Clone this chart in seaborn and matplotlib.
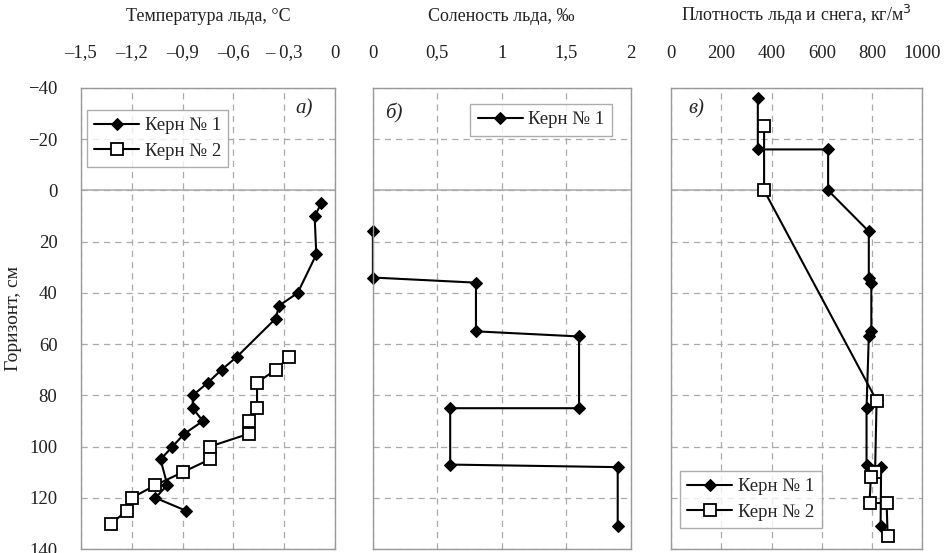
import matplotlib
matplotlib.use('Agg')
import matplotlib.pyplot as plt
import seaborn as sns
import pandas as pd

# панель а) температура льда
temp_depth_1 = [5, 10, 25, 40, 45, 50, 65, 70, 75, 80, 85, 90, 95, 100, 105, 115, 120, 125]
temp_1 = [-0.08, -0.12, -0.11, -0.22, -0.33, -0.35, -0.58, -0.67, -0.75, -0.84, -0.84,
          -0.78, -0.89, -0.96, -1.03, -0.99, -1.06, -0.88]
temp_depth_2 = [65, 70, 75, 85, 90, 95, 100, 105, 110, 115, 120, 125, 130]
temp_2 = [-0.27, -0.35, -0.46, -0.46, -0.51, -0.51, -0.74, -0.74, -0.90, -1.06, -1.20, -1.23, -1.32]

# панель б) соленость
sal_depth = [16, 34, 36, 55, 57, 85, 85, 107, 108, 131]
sal_1 = [0, 0, 0.8, 0.8, 1.6, 1.6, 0.6, 0.6, 1.9, 1.9]

# панель в) плотность
dens_depth_1 = [-36, -16, -16, 0, 16, 34, 36, 55, 57, 85, 107, 108, 131]
dens_1 = [345, 345, 625, 625, 787, 787, 797, 797, 787, 778, 778, 836, 834]
dens_depth_2 = [-25, 0, 82, 110, 112, 122, 122, 135]
dens_2 = [370, 370, 818, 812, 795, 790, 858, 862]

temp_ticks = [-1.5, -1.2, -0.9, -0.6, -0.3, 0]
temp_labels = ['–1,5', '–1,2', '–0,9', '–0,6', '– 0,3', '0']
sal_ticks = [0, 0.5, 1, 1.5, 2]
sal_labels = ['0', '0,5', '1', '1,5', '2']
dens_ticks = [0, 200, 400, 600, 800, 1000]
dens_labels = ['0', '200', '400', '600', '800', '1000']
depth_ticks = list(range(-40, 141, 20))

sns.set_theme(style='white')
plt.rcParams['font.family'] = ['Liberation Serif', 'DejaVu Serif']

fig = plt.figure(figsize=(9.44, 5.53), dpi=100)
ax_a = fig.add_axes([0.0858, 0.007, 0.269, 0.834])
ax_b = fig.add_axes([0.395, 0.007, 0.273, 0.834])
ax_c = fig.add_axes([0.711, 0.007, 0.266, 0.834])

k1 = dict(color='black', lw=1.5, marker='D', markersize=6, markeredgecolor='black',
          markerfacecolor='black', sort=False, estimator=None, clip_on=False)
k2 = dict(color='black', lw=1.5, marker='s', markersize=8, markeredgecolor='black',
          markerfacecolor='white', markeredgewidth=1.3, sort=False, estimator=None,
          clip_on=False)


def draw(ax, x, y, kw, label):
    df = pd.DataFrame({'x': x, 'y': y})
    sns.lineplot(data=df, x='x', y='y', ax=ax, label=label, **kw)


def style(ax, xlim, ticks, labels, title):
    ax.set_xlim(*xlim)
    ax.set_ylim(140, -40)
    ax.xaxis.tick_top()
    ax.xaxis.set_label_position('top')
    ax.set_xticks(ticks)
    ax.set_xticklabels(labels)
    ax.set_yticks(depth_ticks)
    ax.grid(True, ls=(0, (5, 4)), color='#aaaaaa', lw=0.9)
    ax.axhline(0, color='#aaaaaa', lw=1.1, zorder=1)
    for s in ax.spines.values():
        s.set_color('#999999')
        s.set_linewidth(1.0)
    ax.tick_params(axis='x', length=0, pad=19, labelsize=13.5, colors='#222222')
    ax.tick_params(axis='y', length=0, pad=17, labelsize=13.5, colors='#222222')
    ax.set_xlabel(title, fontsize=13, labelpad=17, color='#222222')
    ax.set_ylabel('')


# а)
draw(ax_a, temp_1, temp_depth_1, k1, 'Керн № 1')
draw(ax_a, temp_2, temp_depth_2, k2, 'Керн № 2')
style(ax_a, (-1.5, 0), temp_ticks, temp_labels, 'Температура льда, °C')
ax_a.set_ylabel('Горизонт, см', fontsize=14, color='#222222', labelpad=4)
ax_a.text(0.88, 0.955, 'а)', transform=ax_a.transAxes, fontsize=15, style='italic',
          ha='center', va='center')
ax_a.legend(loc='upper left', bbox_to_anchor=(0.0, 0.965), fontsize=13.5, frameon=True,
            fancybox=False, edgecolor='#999999', borderaxespad=0.3, handlelength=2.4,
            handletextpad=0.3, borderpad=0.4, labelspacing=0.45)

# б)
draw(ax_b, sal_1, sal_depth, k1, 'Керн № 1')
style(ax_b, (0, 2), sal_ticks, sal_labels, 'Соленость льда, ‰')
ax_b.set_yticklabels([])
ax_b.text(0.08, 0.945, 'б)', transform=ax_b.transAxes, fontsize=15, style='italic',
          ha='center', va='center')
ax_b.legend(loc='upper right', bbox_to_anchor=(0.95, 0.978), fontsize=13.5, frameon=True,
            fancybox=False, edgecolor='#999999', borderaxespad=0.3, handlelength=2.4,
            handletextpad=0.3, borderpad=0.4)

# в)
draw(ax_c, dens_1, dens_depth_1, k1, 'Керн № 1')
draw(ax_c, dens_2, dens_depth_2, k2, 'Керн № 2')
style(ax_c, (0, 1000), dens_ticks, dens_labels, 'Плотность льда и снега, кг/м$^3$')
ax_c.set_yticklabels([])
ax_c.text(0.1, 0.955, 'в)', transform=ax_c.transAxes, fontsize=15, style='italic',
          ha='center', va='center')
ax_c.legend(loc='lower left', bbox_to_anchor=(0.035, 0.045), fontsize=13.5, frameon=True,
            fancybox=False, edgecolor='#999999', borderaxespad=0.0, handlelength=2.4,
            handletextpad=0.3, borderpad=0.4, labelspacing=0.45)

fig.savefig('out.png', dpi=100, facecolor='white')
